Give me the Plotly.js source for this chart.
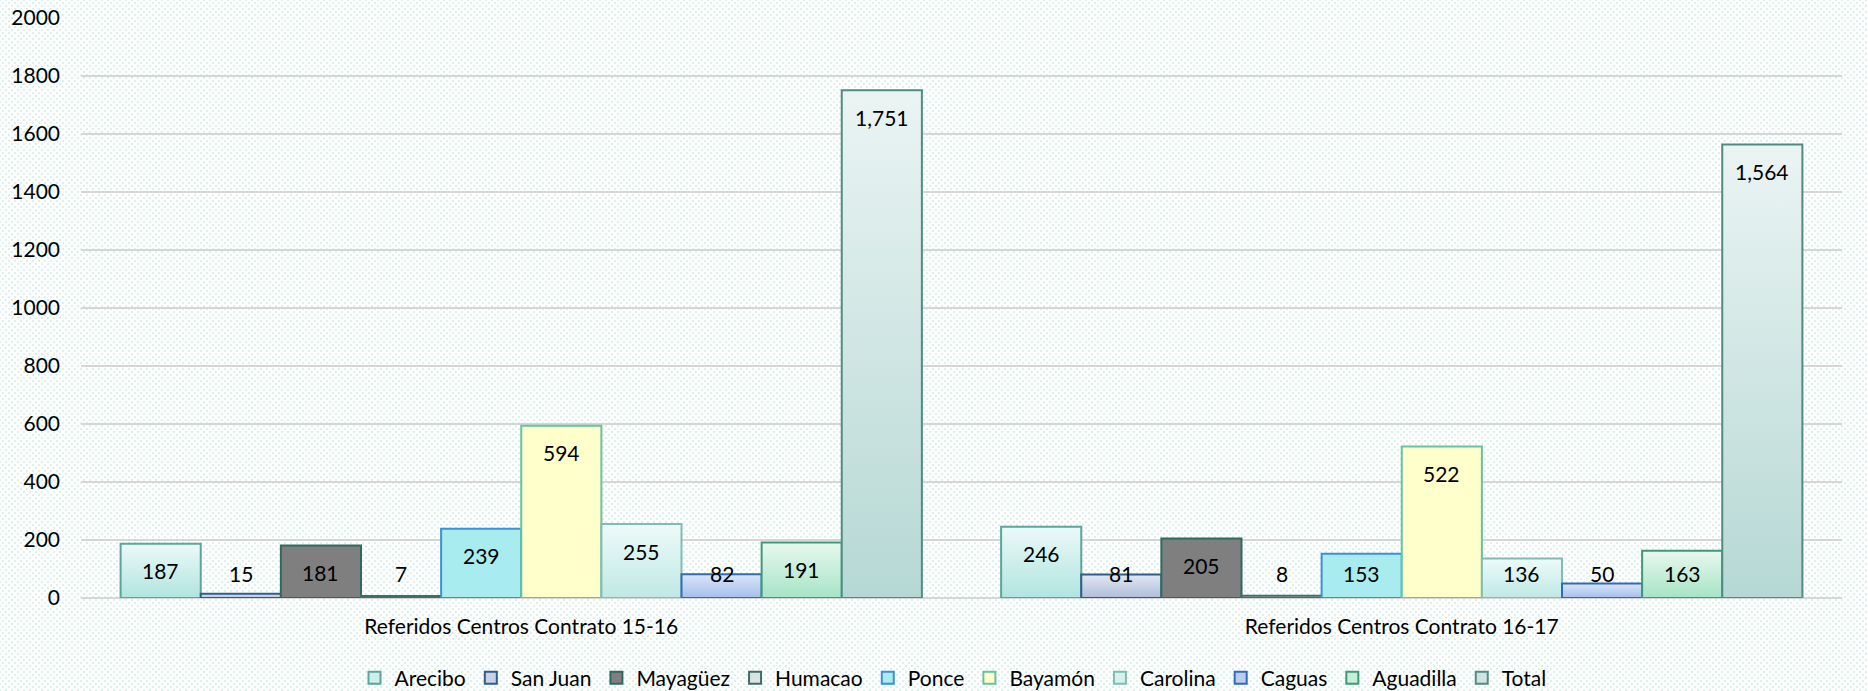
<!DOCTYPE html>
<html>
<head>
<meta charset="utf-8">
<script src="https://cdn.plot.ly/plotly-3.0.1.min.js"></script>
<style>
  html, body { margin: 0; padding: 0; }
  body {
    width: 1868px; height: 691px;
    background-color: #ffffff;
    background-image:
      radial-gradient(circle, #dcf1ec 1px, transparent 1.6px),
      radial-gradient(circle, #dcf1ec 1px, transparent 1.6px);
    background-size: 6px 6px, 6px 6px;
    background-position: 0 0, 3px 3px;
  }
  #chart { width: 1868px; height: 691px; }
</style>
</head>
<body>
<div id="chart"></div>
<script>
// ---- data ----
const categories = ["Referidos Centros Contrato 15-16", "Referidos Centros Contrato 16-17"];
const seriesNames = ["Arecibo", "San Juan", "Mayagüez", "Humacao", "Ponce", "Bayamón", "Carolina", "Caguas", "Aguadilla", "Total"];
const arecibo   = [187, 246];
const sanJuan   = [15, 81];
const mayaguez  = [181, 205];
const humacao   = [7, 8];
const ponce     = [239, 153];
const bayamon   = [594, 522];
const carolina  = [255, 136];
const caguas    = [82, 50];
const aguadilla = [191, 163];
const total     = [1751, 1564];
const yTickVals = [0, 200, 400, 600, 800, 1000, 1200, 1400, 1600, 1800, 2000];

const seriesValues = [arecibo, sanJuan, mayaguez, humacao, ponce, bayamon, carolina, caguas, aguadilla, total];

// ---- styles ----
const fills   = ["#cdefeb", "#c8d2e6", "#7f7f7f", "#d9e4e3", "#a8ecf0", "#ffffcc", "#d6f2ef", "#b9cdee", "#c5efd9", "#cde5e2"];
const gradTop = ["#ecf9f8", "#e2e8f2", "#7f7f7f", "#e4ecec", "#a8ecf0", "#ffffcc", "#eefaf9", "#dae5f7", "#e8f8ee", "#eaf4f3"];
const gradBot = ["#b0e5df", "#aebdda", "#7f7f7f", "#c6d5d4", "#a8ecf0", "#ffffcc", "#bfe9e4", "#a5bfec", "#a6e4c6", "#b6d8d4"];
const borders = ["#5aa59c", "#2f5d8a", "#2e6b5e", "#3e6e6a", "#3d8fd6", "#66c2a0", "#7fbcb5", "#2f6cb3", "#3d9a78", "#4f8c83"];

const W = 1868, H = 691;
const margin = {l: 81, r: 26, t: 18, b: 93};
const yMax = 2000;
const bargap = 0.09;
const fontFam = "Lato, 'Open Sans', sans-serif";
const fsz = 21;

const traces = seriesNames.map((name, i) => ({
  type: "bar",
  name: name,
  x: categories,
  y: seriesValues[i],
  marker: {color: fills[i], line: {color: borders[i], width: 2}},
  hoverinfo: "none"
}));

// data labels (Excel "inside end"), placed via axis coordinates
const plotH = H - margin.t - margin.b;
const ppu = plotH / yMax;
const nS = seriesNames.length;
const slot = (1 - bargap) / nS;
const annotations = [];
seriesValues.forEach((vals, i) => {
  vals.forEach((v, c) => {
    const yLab = Math.max(v - 27 / ppu, 25 / ppu);
    annotations.push({
      x: c + (i - (nS - 1) / 2) * slot,
      y: yLab,
      xref: "x", yref: "y",
      text: v.toLocaleString("en-US"),
      showarrow: false,
      xanchor: "center", yanchor: "middle",
      font: {family: fontFam, size: fsz, color: "#000000"}
    });
  });
});

const layout = {
  width: W, height: H,
  margin: margin,
  paper_bgcolor: "rgba(0,0,0,0)",
  plot_bgcolor: "rgba(0,0,0,0)",
  barmode: "group",
  bargap: bargap,
  bargroupgap: 0,
  font: {family: fontFam, size: fsz, color: "#000000"},
  xaxis: {
    type: "category",
    showgrid: false,
    showline: false,
    ticks: "",
    ticklabelstandoff: 14,
    tickfont: {family: fontFam, size: fsz, color: "#000000"}
  },
  yaxis: {
    range: [0, yMax],
    tickvals: yTickVals,
    ticktext: yTickVals.map(String),
    showgrid: true,
    gridcolor: "#d6d6d6",
    gridwidth: 2,
    zeroline: true,
    zerolinecolor: "#d6d6d6",
    zerolinewidth: 2,
    showline: false,
    ticks: "",
    ticklabelstandoff: 20,
    tickfont: {family: fontFam, size: fsz, color: "#000000"}
  },
  showlegend: true,
  legend: {
    orientation: "h",
    xref: "container", yref: "container",
    x: 953 / W, xanchor: "center",
    y: 1 - 678 / H, yanchor: "middle",
    font: {family: fontFam, size: fsz, color: "#000000"},
    bgcolor: "rgba(0,0,0,0)",
    itemwidth: 30,
    traceorder: "normal"
  },
  annotations: annotations
};

Plotly.newPlot("chart", traces, layout, {displayModeBar: false, staticPlot: true}).then(gd => {
  // vertical gradient fills on the bars (style only)
  const svg = gd.querySelector("svg.main-svg");
  const NS = "http://www.w3.org/2000/svg";
  const defs = document.createElementNS(NS, "defs");
  seriesNames.forEach((n, i) => {
    const lg = document.createElementNS(NS, "linearGradient");
    lg.setAttribute("id", "barGrad" + i);
    lg.setAttribute("x1", "0"); lg.setAttribute("y1", "0");
    lg.setAttribute("x2", "0"); lg.setAttribute("y2", "1");
    [[0, gradTop[i]], [1, gradBot[i]]].forEach(([o, c]) => {
      const st = document.createElementNS(NS, "stop");
      st.setAttribute("offset", String(o));
      st.setAttribute("stop-color", c);
      lg.appendChild(st);
    });
    defs.appendChild(lg);
  });
  svg.insertBefore(defs, svg.firstChild);
  gd.querySelectorAll("g.barlayer g.trace.bars").forEach((tg, i) => {
    tg.querySelectorAll("g.point path").forEach(p => {
      p.style.fill = "url(#barGrad" + i + ")";
    });
  });
});
</script>
</body>
</html>
